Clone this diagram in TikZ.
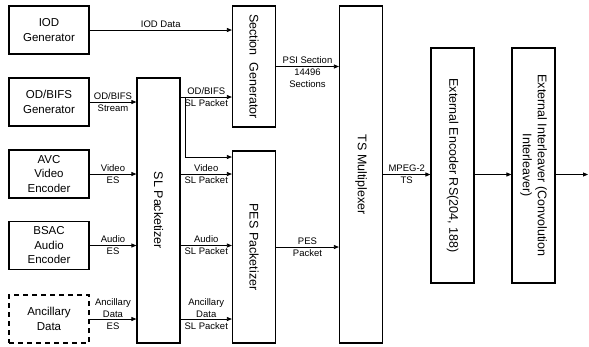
\documentclass[tikz,border=0pt]{standalone}
\usepackage{fontspec}
\setmainfont{Liberation Sans}
\usetikzlibrary{arrows.meta}

\begin{document}
\begin{tikzpicture}[x=1pt,y=-1pt,
    box/.style={draw,line width=1.2pt,minimum width=80pt,minimum height=48pt,align=center,
      inner sep=0pt,font=\fontsize{11.5}{14.5}\selectfont},
    bar/.style={draw,line width=1.2pt,minimum width=43pt,inner sep=0pt},
    vtext/.style={rotate=-90,align=center,font=\fontsize{12.5}{15}\selectfont},
    arr/.style={line width=.8pt,-{Triangle[length=5pt,width=4pt]}},
    lbl/.style={midway,align=center,inner sep=0pt,font=\fontsize{9.5}{12}\selectfont}]
  \useasboundingbox (0,0) rectangle (589,346);
  \node[box] (iod) at (49,30) {IOD\\Generator};
  \node[box] (odb) at (49,102) {OD/BIFS\\Generator};
  \node[box] (avc) at (49,174) {AVC\\Video\\Encoder};
  \node[box] (bsac) at (49,245.5) {BSAC\\Audio\\Encoder};
  \node[box,dash pattern=on 5pt off 4pt] (anc) at (49,319) {Ancillary\\Data};
  \node[bar,minimum height=265pt] (sl) at (158.5,210.5) {};
  \node[vtext] (slt) at (sl) {SL Packetizer};
  \node[bar,minimum height=121pt] (sg) at (254,66.5) {};
  \node[vtext] (sgt) at (sg) {Section\ \ Generator};
  \node[bar,minimum height=192pt] (pes) at (254,247) {};
  \node[vtext] (pest) at (pes) {PES Packetizer};
  \node[bar,minimum height=337pt] (ts) at (361,174.5) {};
  \node[vtext] (tst) at (ts) {TS Multiplexer};
  \node[bar,minimum height=235pt] (enc) at (452.5,165.5) {};
  \node[vtext] (enct) at (enc) {External Encoder RS(204, 188)};
  \node[bar,minimum height=235pt] (int) at (533.5,165.5) {};
  \node[vtext] (intt) at (int) {External Interleaver (Convolution\\Interleaver)};
  \coordinate (br) at (185,97);
  \coordinate (out) at (588,174.5);

  \draw[arr] (iod.east) -- (iod.east -| sg.west) node[lbl,above=2pt] (l1) {IOD Data};
  \draw[arr] (odb.east) -- (odb.east -| sl.west) node[lbl] (l2) {OD/BIFS\\Stream};
  \draw[arr] (avc.east) -- (avc.east -| sl.west) node[lbl] (l3) {Video\\ES};
  \draw[arr] (bsac.east) -- (bsac.east -| sl.west) node[lbl] (l4) {Audio\\ES};
  \draw[arr] (anc.east) -- (anc.east -| sl.west) node[lbl,yshift=5pt] (l5) {Ancillary\\Data\\ES};
  \draw[arr] (sl.east |- br) -- (sg.west |- br) node[lbl] (l6) {OD/BIFS\\SL Packet};
  \draw[arr] (br) |- (pes.west |- 0,157);
  \draw[arr] (sl.east |- avc) -- (pes.west |- avc) node[lbl] (l7) {Video\\SL Packet};
  \draw[arr] (sl.east |- bsac) -- (pes.west |- bsac) node[lbl] (l8) {Audio\\SL Packet};
  \draw[arr] (sl.east |- anc) -- (pes.west |- anc) node[lbl,yshift=5pt] (l9) {Ancillary\\Data\\SL Packet};
  \draw[arr] (sg.east) -- (sg.east -| ts.west) node[lbl,yshift=-5.5pt] (l10) {PSI Section\\14496\\Sections};
  \draw[arr] (pes.east) -- (pes.east -| ts.west) node[lbl] (l11) {PES\\Packet};
  \draw[arr] (ts.east) -- (ts.east -| enc.west) node[lbl] (l12) {MPEG-2\\TS};
  \draw[arr] (enc.east |- ts.east) -- (int.west |- ts.east);
  \draw[arr] (int.east |- out) -- (out);
\end{tikzpicture}
\end{document}
